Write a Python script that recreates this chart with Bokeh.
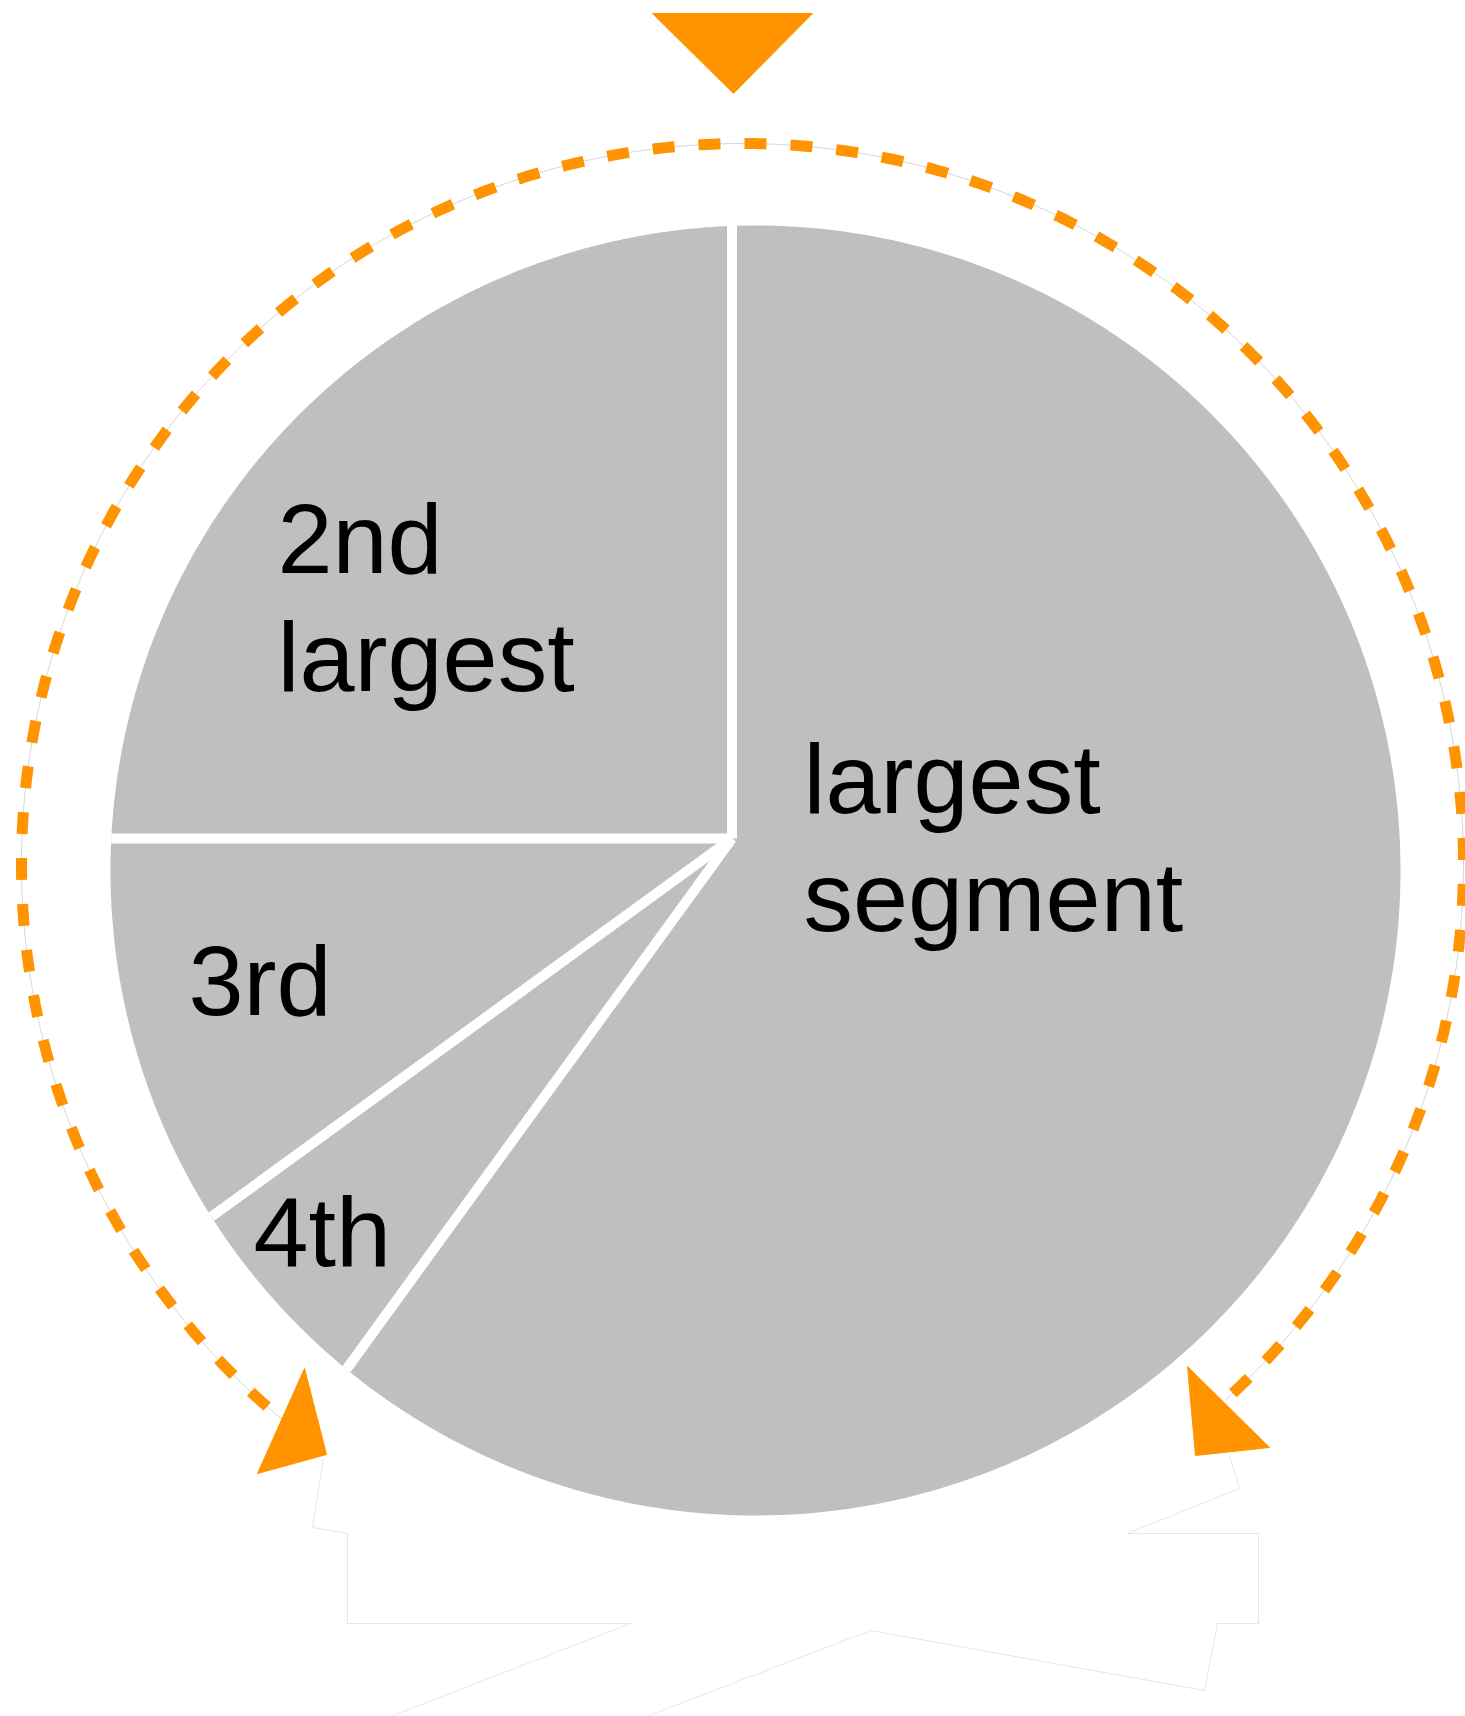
import numpy as np
from bokeh.plotting import figure
from bokeh.models import Range1d
from bokeh.core.properties import value
from bokeh.embed import file_html
from bokeh.resources import INLINE

# ---------------- data ----------------
segments = ["largest segment", "4th", "3rd", "2nd largest"]   # clockwise from 12 o'clock
shares = [60, 5, 10, 25]                                         # percent
label_lines = [["largest", "segment"], ["4th"], ["3rd"], ["2nd", "largest"]]

# ---------------- layout ----------------
W, H = 1465, 1716
GRAY = "#bfbfbf"
ORANGE = "#ff9400"
FONT = "Liberation Sans"
FONT_SIZE = "99px"
LINE_H = 118

C = np.array([755.0, 870.0])   # pie circle centre (screen px, y down)
R = 645.0
V = np.array([731.5, 838.0])   # common vertex of the slices

label_pos = [(803, 778), (253, 1231), (188, 980), (277, 538)]  # left x, first line y

ARC_C = np.array([742.0, 864.0])
ARC_R = 721.0
ARC_START, ARC_END = 230.5, -48.0

p = figure(width=W, height=H, x_range=Range1d(0, W), y_range=Range1d(H, 0),
           output_backend="svg", toolbar_location=None,
           x_axis_location=None, y_axis_location=None, min_border=0)
p.outline_line_color = None
p.xgrid.visible = False
p.ygrid.visible = False
p.background_fill_color = "white"
p.border_fill_color = "white"


def ray_hit(theta_deg):
    t = np.radians(theta_deg)
    d = np.array([np.cos(t), -np.sin(t)])
    f = V - C
    b = np.dot(f, d)
    c = np.dot(f, f) - R * R
    s = -b + np.sqrt(b * b - c)
    return V + s * d


total = float(sum(shares))
cum = np.concatenate([[0], np.cumsum(shares)])
bounds = 90.0 - 360.0 * cum / total

xs, ys = [], []
for i in range(len(shares)):
    P0 = ray_hit(bounds[i])
    P1 = ray_hit(bounds[i + 1])
    phi0 = np.arctan2(-(P0 - C)[1], (P0 - C)[0])
    phi1 = np.arctan2(-(P1 - C)[1], (P1 - C)[0])
    while phi1 > phi0:
        phi1 -= 2 * np.pi
    ts = np.linspace(phi0, phi1, 300)
    xs.append([V[0]] + list(C[0] + R * np.cos(ts)))
    ys.append([V[1]] + list(C[1] - R * np.sin(ts)))

p.patches(xs=xs, ys=ys, fill_color=GRAY, line_color=None)

# white separators between the slices
ends = [ray_hit(b) for b in bounds[:-1]]
p.segment(x0=[V[0]] * len(ends), y0=[V[1]] * len(ends),
          x1=[e[0] for e in ends], y1=[e[1] for e in ends],
          line_color="white", line_width=10, line_cap="butt")

# labels
tx, ty, tt = [], [], []
for (lx, ly), lines in zip(label_pos, label_lines):
    for k, ln in enumerate(lines):
        tx.append(lx)
        ty.append(ly + k * LINE_H)
        tt.append(ln)
p.text(x=tx, y=ty, text=tt, text_font=value(FONT), text_font_size=FONT_SIZE,
       text_color="black", text_align="left", text_baseline="alphabetic")

# faint outline shapes at the bottom
p.multi_line(xs=[[323, 312, 347, 347, 630, 390],
                 [646, 870, 1204, 1217, 1258, 1258, 1127, 1239, 1229]],
             ys=[[1458, 1527, 1533, 1623, 1623, 1716],
                 [1716, 1630, 1690, 1623, 1623, 1533, 1533, 1488, 1455]],
             line_color="#e6e6e6", line_width=1)

# dashed orange arc
ang = np.radians(np.linspace(ARC_START, ARC_END, 600))
ax = ARC_C[0] + ARC_R * np.cos(ang)
ay = ARC_C[1] - ARC_R * np.sin(ang)
p.line(ax, ay, line_color="#d6d6d6", line_width=1)
p.line(ax, ay, line_color=ORANGE, line_width=11, line_dash="22 24",
       line_dash_offset=24, line_cap="butt")

# triangle at the top and the two arrow heads
p.patches(xs=[[652, 812, 733], [304, 257, 326], [1187, 1195, 1269]],
          ys=[[13, 13, 93], [1368, 1473, 1454], [1366, 1455, 1447]],
          fill_color=ORANGE, line_color=ORANGE, line_width=1)

open("out.html", "w").write(file_html(p, INLINE))
